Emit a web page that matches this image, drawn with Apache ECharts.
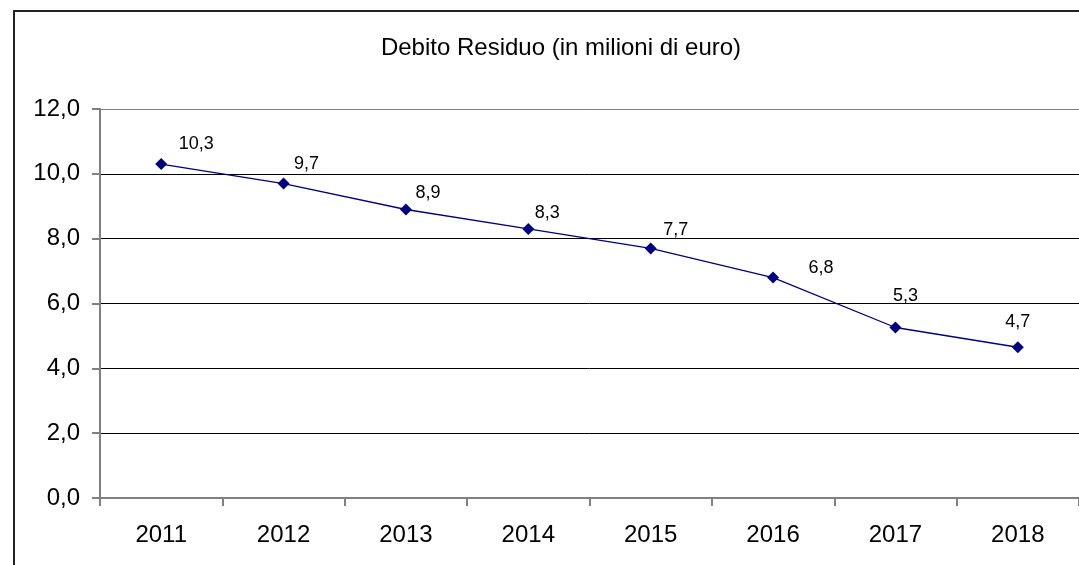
<!DOCTYPE html>
<html>
<head>
<meta charset="utf-8">
<script src="https://cdn.jsdelivr.net/npm/echarts@6/dist/echarts.min.js"></script>
<style>
  html, body { margin: 0; padding: 0; background: #fff; }
  #chart { width: 1079px; height: 565px; }
</style>
</head>
<body>
<div id="chart"></div>
<script>
// Debito residuo per anno (milioni di euro)
const years = ["2011", "2012", "2013", "2014", "2015", "2016", "2017", "2018"];
const debito = [10.3, 9.7, 8.9, 8.3, 7.7, 6.8, 5.26, 4.65];
const yTicks = [0, 2, 4, 6, 8, 10, 12];

// label placement relative to each marker (hand-placed in the original)
const labelOffsets = [[35, -20], [23, -20], [22, -16], [19, -16], [25, -18], [48, -10], [10, -31], [0, -25]];

const fmt = (v) => v.toFixed(1).replace(".", ",");
const FONT = "Liberation Sans, Arial, sans-serif";

const chart = echarts.init(document.getElementById("chart"), null, { renderer: "canvas" });

chart.setOption({
  backgroundColor: "#fff",
  animation: false,
  title: {
    text: "Debito Residuo (in milioni di euro)",
    left: 556,
    top: 31,
    textAlign: "center",
    textStyle: { fontFamily: FONT, fontSize: 24, fontWeight: "normal", color: "#000" },
  },
  graphic: [
    {
      type: "rect",
      shape: { x: 14, y: 11, width: 1100, height: 600 },
      style: { fill: "none", stroke: "#222", lineWidth: 2 },
      silent: true,
    },
  ],
  grid: { left: 100, top: 109, width: 988, height: 389, containLabel: false },
  xAxis: {
    type: "category",
    data: years,
    boundaryGap: true,
    axisLine: { lineStyle: { color: "#808080", width: 2 } },
    axisTick: { show: true, length: 8, lineStyle: { color: "#808080", width: 2 } },
    axisLabel: { fontFamily: FONT, fontSize: 24, color: "#000", margin: 25 },
  },
  yAxis: {
    type: "value",
    min: yTicks[0],
    max: yTicks[yTicks.length - 1],
    interval: 2,
    axisLine: { show: true, lineStyle: { color: "#808080", width: 2 } },
    axisTick: { show: true, length: 8, lineStyle: { color: "#808080", width: 2 } },
    axisLabel: { fontFamily: FONT, fontSize: 24, color: "#000", margin: 20, formatter: fmt },
    splitLine: {
      show: true,
      lineStyle: { color: ["#808080", "#000", "#000", "#000", "#000", "#000", "#808080"], width: 1 },
    },
  },
  series: [
    {
      type: "line",
      data: debito.map((v, i) => ({
        value: v,
        label: { offset: labelOffsets[i] },
      })),
      symbol: "diamond",
      symbolSize: 12,
      itemStyle: { color: "#000080" },
      lineStyle: { color: "#000080", width: 1.3 },
      label: {
        show: true,
        position: "inside",
        fontFamily: FONT,
        fontSize: 18,
        color: "#000",
        formatter: (p) => fmt(p.value),
      },
    },
  ],
});
</script>
</body>
</html>
